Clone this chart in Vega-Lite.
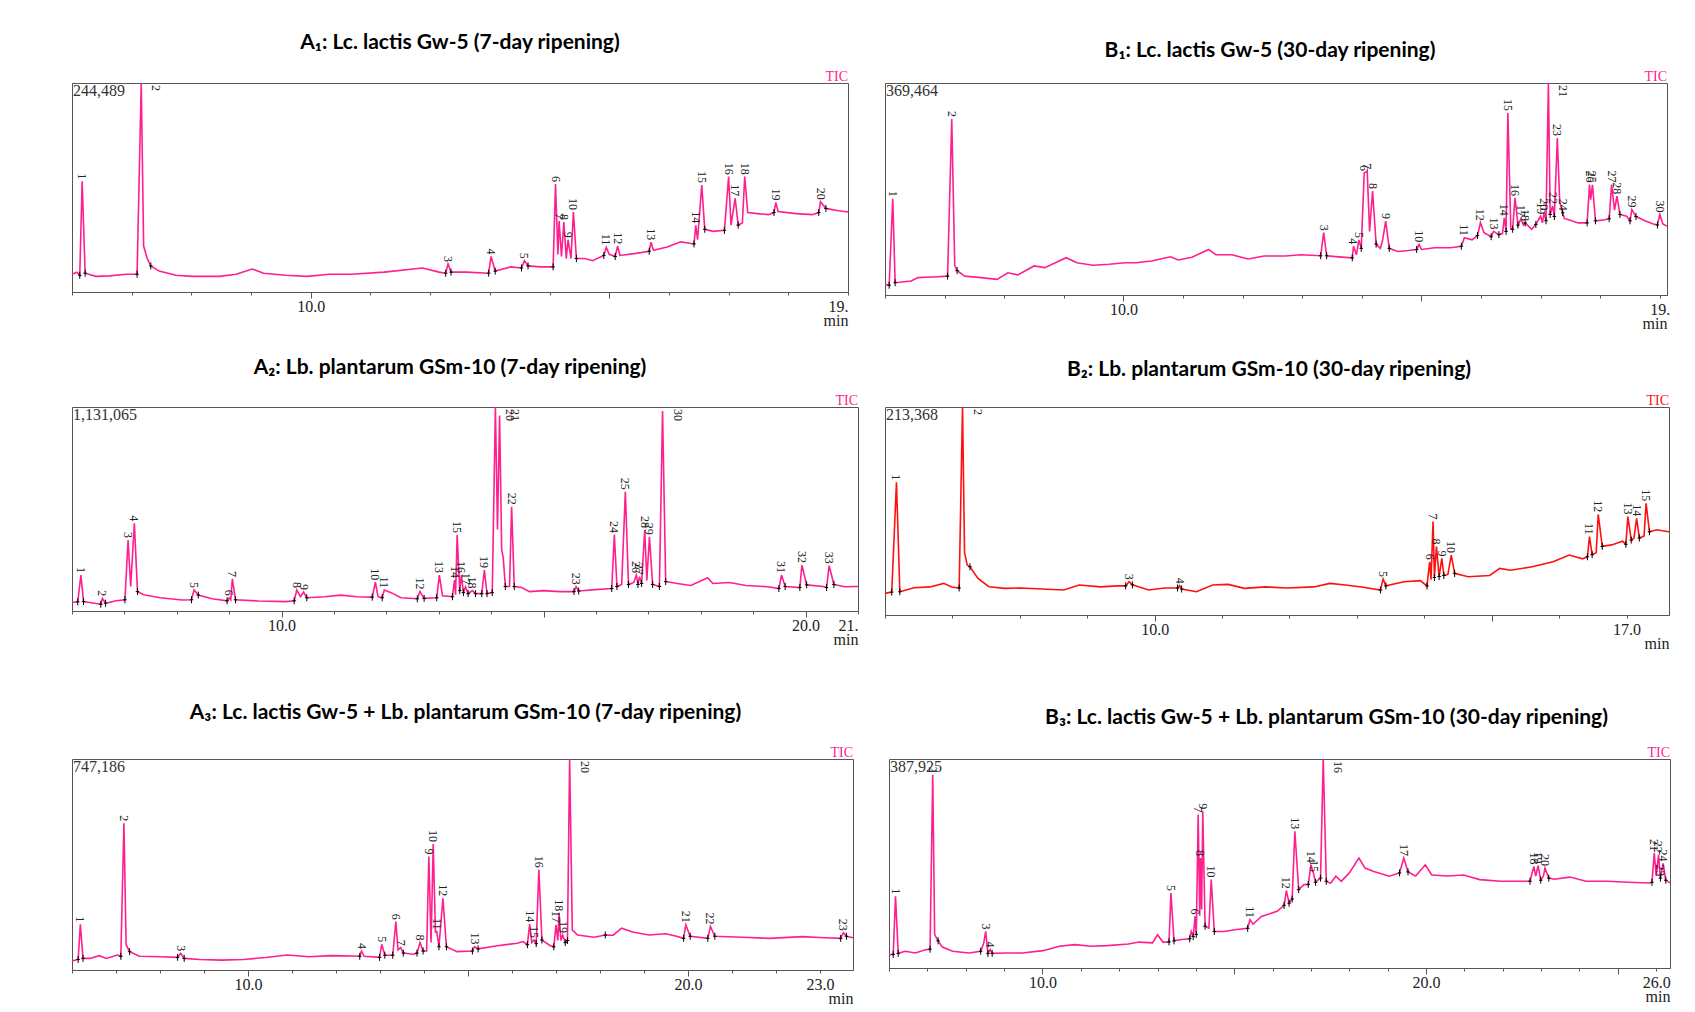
{
"$schema": "https://vega.github.io/schema/vega-lite/v6.json",
"padding": {"left": 68, "top": 31, "right": 10, "bottom": 10},
"background": "white",
"datasets": {
"A1": [{"t":6,"v":8.5},{"t":6.08,"v":9.5},{"t":6.13,"v":8,"b":1},{"t":6.17,"v":53},{"t":6.22,"v":9,"b":1},{"t":6.4,"v":7.5},{"t":6.63,"v":7.7},{"t":6.91,"v":8.5},{"t":7.09,"v":8.5,"b":1},{"t":7.16,"v":125},{"t":7.2,"v":22},{"t":7.26,"v":16},{"t":7.32,"v":12.5,"b":1},{"t":7.46,"v":10},{"t":7.74,"v":8},{"t":8.01,"v":7.5},{"t":8.47,"v":7.5},{"t":8.75,"v":8.5},{"t":9.02,"v":11},{"t":9.21,"v":9},{"t":9.58,"v":8},{"t":9.94,"v":7.5},{"t":10.31,"v":8.5},{"t":10.68,"v":8.5},{"t":11.23,"v":9.5},{"t":11.87,"v":11.5},{"t":12.15,"v":9.5},{"t":12.26,"v":9,"b":1},{"t":12.3,"v":13.4},{"t":12.35,"v":9.5,"b":1},{"t":12.61,"v":9.5},{"t":12.98,"v":9,"b":1},{"t":13.02,"v":17},{"t":13.09,"v":10,"b":1},{"t":13.35,"v":12},{"t":13.53,"v":11.5,"b":1},{"t":13.58,"v":15},{"t":13.64,"v":12.5,"b":1},{"t":13.85,"v":12},{"t":14.06,"v":12,"b":1},{"t":14.1,"v":51.7},{"t":14.14,"v":18},{"t":14.16,"v":34},{"t":14.2,"v":17},{"t":14.24,"v":33.5},{"t":14.28,"v":16},{"t":14.31,"v":25},{"t":14.36,"v":16},{"t":14.4,"v":38.3},{"t":14.45,"v":16,"b":1},{"t":14.59,"v":16},{"t":14.72,"v":15},{"t":14.91,"v":17.5,"b":1},{"t":14.95,"v":21.4},{"t":15,"v":18},{"t":15.1,"v":17,"b":1},{"t":15.14,"v":21.9},{"t":15.18,"v":17.5},{"t":15.45,"v":18.5},{"t":15.67,"v":19.5,"b":1},{"t":15.7,"v":23.8},{"t":15.74,"v":20},{"t":15.97,"v":21.5},{"t":16.2,"v":24},{"t":16.42,"v":23,"b":1},{"t":16.45,"v":31.9},{"t":16.48,"v":25},{"t":16.55,"v":51.2},{"t":16.6,"v":30,"b":1},{"t":16.74,"v":29},{"t":16.93,"v":29.5,"b":1},{"t":17,"v":55.2},{"t":17.04,"v":32},{"t":17.11,"v":44.8},{"t":17.16,"v":32,"b":1},{"t":17.23,"v":33},{"t":17.27,"v":55.2},{"t":17.32,"v":38},{"t":17.48,"v":37.5},{"t":17.67,"v":37},{"t":17.76,"v":38,"b":1},{"t":17.79,"v":42.8},{"t":17.83,"v":38.5},{"t":18.13,"v":37.5},{"t":18.4,"v":37},{"t":18.51,"v":38,"b":1},{"t":18.54,"v":43.2},{"t":18.63,"v":40,"b":1},{"t":18.82,"v":39},{"t":19,"v":38.3}],
"A1p": [{"n":"1","t":6.17,"v":53},{"n":"2","t":7.16,"v":125},{"n":"3","t":12.3,"v":13.4},{"n":"4","t":13.02,"v":17},{"n":"5","t":13.58,"v":15},{"n":"6","t":14.1,"v":51.7},{"n":"7","t":14.16,"v":34},{"n":"8","t":14.24,"v":33.5},{"n":"9","t":14.31,"v":25},{"n":"10","t":14.4,"v":38.3},{"n":"11","t":14.95,"v":21.4},{"n":"12","t":15.14,"v":21.9},{"n":"13","t":15.7,"v":23.8},{"n":"14","t":16.45,"v":31.9},{"n":"15","t":16.55,"v":51.2},{"n":"16","t":17,"v":55.2},{"n":"17","t":17.11,"v":44.8},{"n":"18","t":17.27,"v":55.2},{"n":"19","t":17.79,"v":42.8},{"n":"20","t":18.54,"v":43.2}],
"B1": [{"t":6,"v":5},{"t":6.07,"v":4.6,"b":1},{"t":6.13,"v":45.4},{"t":6.17,"v":5.8,"b":1},{"t":6.44,"v":6.6},{"t":6.55,"v":8.2},{"t":6.8,"v":8.5},{"t":7.05,"v":8.9,"b":1},{"t":7.12,"v":83},{"t":7.17,"v":14},{"t":7.21,"v":11.5,"b":1},{"t":7.34,"v":8.9},{"t":7.61,"v":8.2},{"t":7.88,"v":7.4},{"t":8.06,"v":10.5},{"t":8.23,"v":9.5},{"t":8.5,"v":13.7},{"t":8.68,"v":12.9},{"t":9.04,"v":17.6},{"t":9.22,"v":15.2},{"t":9.49,"v":14},{"t":9.76,"v":14.5},{"t":10.03,"v":15.2},{"t":10.21,"v":15.2},{"t":10.47,"v":16},{"t":10.79,"v":18},{"t":10.92,"v":16.5},{"t":11.15,"v":17.8},{"t":11.43,"v":21.5},{"t":11.55,"v":19},{"t":11.82,"v":19},{"t":12.09,"v":17},{"t":12.36,"v":18.4},{"t":12.72,"v":18.4},{"t":12.98,"v":19},{"t":13.31,"v":18.5,"b":1},{"t":13.36,"v":29.4},{"t":13.41,"v":18.5,"b":1},{"t":13.61,"v":18},{"t":13.84,"v":17.5,"b":1},{"t":13.86,"v":23},{"t":13.91,"v":19},{"t":13.95,"v":26},{"t":13.99,"v":22,"b":1},{"t":14.04,"v":57.6},{"t":14.09,"v":58.4},{"t":14.13,"v":30},{"t":14.18,"v":49},{"t":14.24,"v":24,"b":1},{"t":14.31,"v":22},{"t":14.35,"v":26},{"t":14.4,"v":34.9},{"t":14.46,"v":22,"b":1},{"t":14.6,"v":20.5},{"t":14.78,"v":21},{"t":14.92,"v":21.5,"b":1},{"t":14.96,"v":23.9},{"t":15,"v":21.5},{"t":15.22,"v":22.3},{"t":15.49,"v":22.3},{"t":15.67,"v":23,"b":1},{"t":15.72,"v":27},{"t":15.85,"v":26},{"t":15.94,"v":28,"b":1},{"t":15.99,"v":34.1},{"t":16.05,"v":29.4},{"t":16.17,"v":27.5,"b":1},{"t":16.21,"v":30},{"t":16.3,"v":28.5,"b":1},{"t":16.36,"v":29},{"t":16.39,"v":36.4},{"t":16.42,"v":30,"b":1},{"t":16.45,"v":85.9},{"t":16.5,"v":31},{"t":16.53,"v":31,"b":1},{"t":16.57,"v":45.8},{"t":16.62,"v":33,"b":1},{"t":16.67,"v":36},{"t":16.71,"v":33},{"t":16.74,"v":34,"b":1},{"t":16.85,"v":31},{"t":16.92,"v":33.3,"b":1},{"t":17,"v":37.2},{"t":17.03,"v":34},{"t":17.06,"v":39},{"t":17.09,"v":35,"b":1},{"t":17.13,"v":125},{"t":17.16,"v":38,"b":1},{"t":17.2,"v":42},{"t":17.23,"v":37,"b":1},{"t":17.28,"v":74.1},{"t":17.32,"v":44},{"t":17.37,"v":38.8,"b":1},{"t":17.4,"v":36},{"t":17.46,"v":35.6},{"t":17.63,"v":34},{"t":17.78,"v":34,"b":1},{"t":17.82,"v":52.1},{"t":17.84,"v":45},{"t":17.87,"v":52},{"t":17.92,"v":35,"b":1},{"t":18.08,"v":35.5},{"t":18.15,"v":36,"b":1},{"t":18.19,"v":52.1},{"t":18.24,"v":40},{"t":18.28,"v":46.6},{"t":18.33,"v":38,"b":1},{"t":18.44,"v":37.2},{"t":18.5,"v":35,"b":1},{"t":18.53,"v":40.3},{"t":18.6,"v":37,"b":1},{"t":18.75,"v":35},{"t":18.89,"v":33.5},{"t":18.96,"v":33,"b":1},{"t":19,"v":38},{"t":19.05,"v":33.5},{"t":19.12,"v":32.5}],
"B1p": [{"n":"1","t":6.13,"v":45.4},{"n":"2","t":7.12,"v":83},{"n":"3","t":13.36,"v":29.4},{"n":"4","t":13.86,"v":23},{"n":"5","t":13.95,"v":26},{"n":"6","t":14.04,"v":57.6},{"n":"7","t":14.09,"v":58.4},{"n":"8","t":14.18,"v":49},{"n":"9","t":14.4,"v":34.9},{"n":"10","t":14.96,"v":23.9},{"n":"11","t":15.72,"v":27},{"n":"12","t":15.99,"v":34.1},{"n":"13","t":16.21,"v":30},{"n":"14","t":16.39,"v":36.4},{"n":"15","t":16.45,"v":85.9},{"n":"16","t":16.57,"v":45.8},{"n":"17","t":16.67,"v":36},{"n":"18","t":16.74,"v":34},{"n":"19","t":17,"v":37.2},{"n":"20","t":17.06,"v":39},{"n":"21","t":17.13,"v":125},{"n":"22","t":17.2,"v":42},{"n":"23","t":17.28,"v":74.1},{"n":"24","t":17.37,"v":38.8},{"n":"25","t":17.87,"v":52},{"n":"26","t":17.82,"v":52.1},{"n":"27","t":18.19,"v":52.1},{"n":"28","t":18.28,"v":46.6},{"n":"29","t":18.53,"v":40.3},{"n":"30","t":19,"v":38}],
"A2": [{"t":6,"v":4.2},{"t":6.11,"v":4.5,"b":1},{"t":6.17,"v":17.6},{"t":6.22,"v":4.6,"b":1},{"t":6.43,"v":3.8},{"t":6.55,"v":3.3,"b":1},{"t":6.58,"v":6.2},{"t":6.64,"v":3.8,"b":1},{"t":6.84,"v":5},{"t":7.01,"v":5.5,"b":1},{"t":7.07,"v":34.8},{"t":7.12,"v":12},{"t":7.19,"v":43},{"t":7.25,"v":9.5,"b":1},{"t":7.37,"v":8},{"t":7.68,"v":6.5},{"t":8.1,"v":5.4},{"t":8.28,"v":5.5,"b":1},{"t":8.33,"v":10.3},{"t":8.41,"v":7.8,"b":1},{"t":8.67,"v":6},{"t":8.96,"v":5,"b":1},{"t":9,"v":6.5},{"t":9.03,"v":5.5},{"t":9.06,"v":15.7},{"t":9.12,"v":5.5,"b":1},{"t":9.56,"v":4.9},{"t":10.08,"v":4.6},{"t":10.24,"v":5,"b":1},{"t":10.29,"v":10.3},{"t":10.36,"v":7},{"t":10.42,"v":9.3},{"t":10.48,"v":6.5,"b":1},{"t":10.82,"v":7},{"t":11.13,"v":7.8},{"t":11.44,"v":7},{"t":11.73,"v":6.8,"b":1},{"t":11.79,"v":14.1},{"t":11.84,"v":7},{"t":11.92,"v":6.5,"b":1},{"t":11.96,"v":10.3},{"t":12.09,"v":9},{"t":12.28,"v":6.5},{"t":12.59,"v":6,"b":1},{"t":12.64,"v":9.5},{"t":12.72,"v":6.2,"b":1},{"t":12.96,"v":6.5,"b":1},{"t":13.01,"v":17.6},{"t":13.07,"v":7.5},{"t":13.26,"v":7,"b":1},{"t":13.3,"v":15.2},{"t":13.32,"v":8},{"t":13.35,"v":37.3},{"t":13.4,"v":10,"b":1},{"t":13.43,"v":17.6},{"t":13.47,"v":9,"b":1},{"t":13.51,"v":11.9},{"t":13.56,"v":8.5,"b":1},{"t":13.64,"v":10},{"t":13.7,"v":8.5,"b":1},{"t":13.82,"v":8.5,"b":1},{"t":13.87,"v":20.1},{"t":13.92,"v":8.5,"b":1},{"t":14.02,"v":9,"b":1},{"t":14.08,"v":125},{"t":14.12,"v":40},{"t":14.16,"v":95.8},{"t":14.2,"v":30},{"t":14.23,"v":26},{"t":14.27,"v":12,"b":1},{"t":14.35,"v":12},{"t":14.39,"v":51.1},{"t":14.44,"v":12,"b":1},{"t":14.58,"v":11.5},{"t":14.73,"v":9.5},{"t":14.99,"v":10},{"t":15.31,"v":9.5},{"t":15.58,"v":9.5,"b":1},{"t":15.62,"v":11.9},{"t":15.67,"v":9.8,"b":1},{"t":15.99,"v":10.5},{"t":16.3,"v":11,"b":1},{"t":16.35,"v":37.3},{"t":16.4,"v":12,"b":1},{"t":16.49,"v":13},{"t":16.56,"v":58.5},{"t":16.62,"v":13,"b":1},{"t":16.72,"v":14},{"t":16.77,"v":17.6},{"t":16.8,"v":13,"b":1},{"t":16.83,"v":16.8},{"t":16.87,"v":13.5,"b":1},{"t":16.93,"v":39.7},{"t":16.97,"v":15},{"t":17.02,"v":36.4},{"t":17.08,"v":13,"b":1},{"t":17.21,"v":12,"b":1},{"t":17.27,"v":98},{"t":17.33,"v":14.4,"b":1},{"t":17.55,"v":13.5},{"t":17.81,"v":12.5},{"t":18.13,"v":16.3},{"t":18.23,"v":13.5},{"t":18.55,"v":14},{"t":18.86,"v":12.5},{"t":19.28,"v":11.9},{"t":19.49,"v":11,"b":1},{"t":19.54,"v":17.6},{"t":19.61,"v":12,"b":1},{"t":19.89,"v":11.5,"b":1},{"t":19.93,"v":22.5},{"t":20.02,"v":12.8,"b":1},{"t":20.33,"v":12},{"t":20.4,"v":11.5,"b":1},{"t":20.45,"v":22.2},{"t":20.54,"v":13,"b":1},{"t":20.75,"v":11.9},{"t":21,"v":12}],
"A2p": [{"n":"1","t":6.17,"v":17.6},{"n":"2","t":6.58,"v":6.2},{"n":"3","t":7.07,"v":34.8},{"n":"4","t":7.19,"v":43},{"n":"5","t":8.33,"v":10.3},{"n":"6","t":9,"v":6.5},{"n":"7","t":9.06,"v":15.7},{"n":"8","t":10.29,"v":10.3},{"n":"9","t":10.42,"v":9.3},{"n":"10","t":11.79,"v":14.1},{"n":"11","t":11.96,"v":10.3},{"n":"12","t":12.64,"v":9.5},{"n":"13","t":13.01,"v":17.6},{"n":"14","t":13.3,"v":15.2},{"n":"15","t":13.35,"v":37.3},{"n":"16","t":13.43,"v":17.6},{"n":"17","t":13.51,"v":11.9},{"n":"18","t":13.64,"v":10},{"n":"19","t":13.87,"v":20.1},{"n":"20","t":14.08,"v":125},{"n":"21","t":14.16,"v":95.8},{"n":"22","t":14.39,"v":51.1},{"n":"23","t":15.62,"v":11.9},{"n":"24","t":16.35,"v":37.3},{"n":"25","t":16.56,"v":58.5},{"n":"26","t":16.77,"v":17.6},{"n":"27","t":16.83,"v":16.8},{"n":"28","t":16.93,"v":39.7},{"n":"29","t":17.02,"v":36.4},{"n":"30","t":17.27,"v":98},{"n":"31","t":19.54,"v":17.6},{"n":"32","t":19.93,"v":22.5},{"n":"33","t":20.45,"v":22.2}],
"B2": [{"t":6,"v":10.4},{"t":6.1,"v":11,"b":1},{"t":6.17,"v":63.8},{"t":6.22,"v":11.2,"b":1},{"t":6.43,"v":13.1},{"t":6.67,"v":13.5},{"t":6.87,"v":15.2},{"t":6.99,"v":13.5},{"t":7.1,"v":13,"b":1},{"t":7.15,"v":125},{"t":7.18,"v":30},{"t":7.22,"v":24},{"t":7.26,"v":23.2,"b":1},{"t":7.38,"v":17.6},{"t":7.54,"v":13.6},{"t":7.78,"v":12.8},{"t":8.01,"v":13},{"t":8.33,"v":12.5},{"t":8.65,"v":12},{"t":8.88,"v":14.4},{"t":9.2,"v":13.5},{"t":9.44,"v":14},{"t":9.57,"v":14,"b":1},{"t":9.62,"v":16},{"t":9.67,"v":14.5,"b":1},{"t":9.91,"v":12},{"t":10.15,"v":13},{"t":10.34,"v":13,"b":1},{"t":10.37,"v":14.1},{"t":10.4,"v":12.5,"b":1},{"t":10.62,"v":11.2},{"t":10.86,"v":14.4},{"t":11.09,"v":14.7},{"t":11.33,"v":12.8},{"t":11.65,"v":13.5},{"t":11.96,"v":13},{"t":12.36,"v":13.5},{"t":12.6,"v":15.2},{"t":12.83,"v":14.4},{"t":13.07,"v":13.5},{"t":13.35,"v":12,"b":1},{"t":13.39,"v":17.3},{"t":13.43,"v":14,"b":1},{"t":13.7,"v":16},{"t":13.94,"v":16.5},{"t":14.04,"v":14,"b":1},{"t":14.08,"v":25.6},{"t":14.1,"v":17},{"t":14.13,"v":44.9},{"t":14.15,"v":18,"b":1},{"t":14.18,"v":32.9},{"t":14.22,"v":18.5,"b":1},{"t":14.26,"v":27.2},{"t":14.29,"v":19,"b":1},{"t":14.35,"v":19.5},{"t":14.4,"v":28.8},{"t":14.45,"v":20,"b":1},{"t":14.65,"v":18.4},{"t":14.97,"v":19},{"t":15.12,"v":22.4},{"t":15.28,"v":21.5},{"t":15.6,"v":23.2},{"t":15.91,"v":25.6},{"t":16.15,"v":28.8},{"t":16.35,"v":27},{"t":16.42,"v":28,"b":1},{"t":16.45,"v":37.7},{"t":16.49,"v":29,"b":1},{"t":16.55,"v":30},{"t":16.58,"v":48.4},{"t":16.64,"v":33,"b":1},{"t":16.78,"v":33.7},{"t":16.94,"v":35.5},{"t":16.99,"v":34,"b":1},{"t":17.02,"v":47.3},{"t":17.07,"v":36,"b":1},{"t":17.11,"v":37},{"t":17.15,"v":46.5},{"t":17.19,"v":37,"b":1},{"t":17.26,"v":38},{"t":17.29,"v":53.7},{"t":17.34,"v":40,"b":1},{"t":17.45,"v":41},{"t":17.53,"v":40.5},{"t":17.63,"v":40}],
"B2p": [{"n":"1","t":6.17,"v":63.8},{"n":"2","t":7.15,"v":125},{"n":"3","t":9.62,"v":16},{"n":"4","t":10.37,"v":14.1},{"n":"5","t":13.39,"v":17.3},{"n":"6","t":14.08,"v":25.6},{"n":"7","t":14.13,"v":44.9},{"n":"8","t":14.18,"v":32.9},{"n":"9","t":14.26,"v":27.2},{"n":"10","t":14.4,"v":28.8},{"n":"11","t":16.45,"v":37.7},{"n":"12","t":16.58,"v":48.4},{"n":"13","t":17.02,"v":47.3},{"n":"14","t":17.15,"v":46.5},{"n":"15","t":17.29,"v":53.7}],
"A3": [{"t":6,"v":4.3},{"t":6.14,"v":5,"b":1},{"t":6.19,"v":21.7},{"t":6.25,"v":5.5,"b":1},{"t":6.41,"v":5.5},{"t":6.62,"v":6.8},{"t":6.78,"v":5.5},{"t":7.03,"v":7.1},{"t":7.11,"v":6.5,"b":1},{"t":7.18,"v":69.6},{"t":7.23,"v":12},{"t":7.31,"v":8.7,"b":1},{"t":7.53,"v":6.5},{"t":8.03,"v":6.3},{"t":8.4,"v":6,"b":1},{"t":8.47,"v":7.9},{"t":8.55,"v":5.5,"b":1},{"t":8.9,"v":5},{"t":9.4,"v":4.7},{"t":9.9,"v":5},{"t":10.4,"v":5.9},{"t":10.89,"v":7.1},{"t":11.39,"v":6.3},{"t":11.89,"v":6.8},{"t":12.39,"v":6.6},{"t":12.54,"v":6.5,"b":1},{"t":12.58,"v":9},{"t":12.64,"v":6.5},{"t":12.99,"v":6,"b":1},{"t":13.04,"v":12.2},{"t":13.11,"v":7,"b":1},{"t":13.29,"v":7,"b":1},{"t":13.36,"v":22.9},{"t":13.41,"v":9.5},{"t":13.47,"v":10.6},{"t":13.53,"v":8,"b":1},{"t":13.76,"v":7.5},{"t":13.84,"v":8,"b":1},{"t":13.91,"v":13},{"t":13.98,"v":9,"b":1},{"t":14.06,"v":9},{"t":14.11,"v":53.8},{"t":14.16,"v":13},{"t":14.21,"v":59.7},{"t":14.26,"v":18},{"t":14.29,"v":18.2},{"t":14.34,"v":11,"b":1},{"t":14.43,"v":34},{"t":14.51,"v":11,"b":1},{"t":14.75,"v":8.7},{"t":15.1,"v":9,"b":1},{"t":15.15,"v":11.1},{"t":15.23,"v":10,"b":1},{"t":15.63,"v":11.4},{"t":16.12,"v":12.7},{"t":16.25,"v":13.5},{"t":16.35,"v":12,"b":1},{"t":16.4,"v":21.7},{"t":16.45,"v":13},{"t":16.5,"v":14.2},{"t":16.55,"v":12.5,"b":1},{"t":16.61,"v":47.5},{"t":16.68,"v":14.2,"b":1},{"t":16.87,"v":11.5},{"t":16.95,"v":11,"b":1},{"t":17,"v":21.4},{"t":17.04,"v":14},{"t":17.07,"v":26.9},{"t":17.11,"v":14},{"t":17.15,"v":16.6},{"t":17.21,"v":13,"b":1},{"t":17.26,"v":14,"b":1},{"t":17.31,"v":125},{"t":17.37,"v":19},{"t":17.49,"v":16.6},{"t":17.87,"v":15.5},{"t":18.12,"v":16.6,"b":1},{"t":18.3,"v":16.5},{"t":18.49,"v":19.8},{"t":18.74,"v":18},{"t":19.11,"v":16.6},{"t":19.49,"v":17.2},{"t":19.74,"v":16},{"t":19.9,"v":15,"b":1},{"t":19.95,"v":21.4},{"t":20.05,"v":16,"b":1},{"t":20.45,"v":15,"b":1},{"t":20.51,"v":20.6},{"t":20.61,"v":16,"b":1},{"t":21.23,"v":15.5},{"t":21.85,"v":15},{"t":22.6,"v":15.8},{"t":23.1,"v":15.3},{"t":23.47,"v":15,"b":1},{"t":23.53,"v":17.7},{"t":23.6,"v":16,"b":1},{"t":23.75,"v":15.3}],
"A3p": [{"n":"1","t":6.19,"v":21.7},{"n":"2","t":7.18,"v":69.6},{"n":"3","t":8.47,"v":7.9},{"n":"4","t":12.58,"v":9},{"n":"5","t":13.04,"v":12.2},{"n":"6","t":13.36,"v":22.9},{"n":"7","t":13.47,"v":10.6},{"n":"8","t":13.91,"v":13},{"n":"9","t":14.11,"v":53.8},{"n":"10","t":14.21,"v":59.7},{"n":"11","t":14.29,"v":18.2},{"n":"12","t":14.43,"v":34},{"n":"13","t":15.15,"v":11.1},{"n":"14","t":16.4,"v":21.7},{"n":"15","t":16.5,"v":14.2},{"n":"16","t":16.61,"v":47.5},{"n":"17","t":17,"v":21.4},{"n":"18","t":17.07,"v":26.9},{"n":"19","t":17.15,"v":16.6},{"n":"20","t":17.31,"v":125},{"n":"21","t":19.95,"v":21.4},{"n":"22","t":20.51,"v":20.6},{"n":"23","t":23.53,"v":17.7}],
"B3": [{"t":6,"v":6.4},{"t":6.11,"v":6.5,"b":1},{"t":6.17,"v":34.3},{"t":6.24,"v":7,"b":1},{"t":6.42,"v":8},{"t":6.69,"v":7.2},{"t":6.97,"v":8.8},{"t":7.07,"v":9,"b":1},{"t":7.14,"v":92.5},{"t":7.19,"v":16},{"t":7.28,"v":13,"b":1},{"t":7.39,"v":10},{"t":7.66,"v":8},{"t":8.08,"v":7.2},{"t":8.39,"v":8,"b":1},{"t":8.47,"v":12},{"t":8.52,"v":17.5},{"t":8.58,"v":7,"b":1},{"t":8.64,"v":8.8},{"t":8.69,"v":7,"b":1},{"t":9.05,"v":7.2},{"t":9.47,"v":7.2},{"t":10.02,"v":8.3},{"t":10.44,"v":10.4},{"t":10.85,"v":11.2},{"t":11.27,"v":10.4},{"t":11.69,"v":10.7},{"t":12.24,"v":11.5},{"t":12.52,"v":12.4},{"t":12.87,"v":12},{"t":13,"v":15.9},{"t":13.14,"v":12.4},{"t":13.3,"v":12.5,"b":1},{"t":13.35,"v":35.9},{"t":13.43,"v":13,"b":1},{"t":13.63,"v":13.6},{"t":13.84,"v":14,"b":1},{"t":13.88,"v":17.5},{"t":13.93,"v":15,"b":1},{"t":13.98,"v":24.7},{"t":14.01,"v":16,"b":1},{"t":14.06,"v":73.4},{"t":14.1,"v":25},{"t":14.12,"v":52.6},{"t":14.15,"v":28},{"t":14.18,"v":75},{"t":14.24,"v":20,"b":1},{"t":14.34,"v":19},{"t":14.4,"v":42.3},{"t":14.48,"v":17.5,"b":1},{"t":14.73,"v":17.5},{"t":15.01,"v":18.3},{"t":15.35,"v":19,"b":1},{"t":15.41,"v":23.1},{"t":15.49,"v":21},{"t":15.71,"v":24.7},{"t":16.12,"v":27.1},{"t":16.3,"v":30,"b":1},{"t":16.36,"v":37},{"t":16.43,"v":31,"b":1},{"t":16.51,"v":33,"b":1},{"t":16.58,"v":65.4},{"t":16.68,"v":37.5,"b":1},{"t":16.82,"v":39.9},{"t":16.93,"v":40,"b":1},{"t":17,"v":49.4},{"t":17.07,"v":45},{"t":17.12,"v":41,"b":1},{"t":17.18,"v":42},{"t":17.25,"v":43,"b":1},{"t":17.32,"v":125},{"t":17.4,"v":41.5,"b":1},{"t":17.51,"v":40.5},{"t":17.65,"v":43.9},{"t":17.79,"v":41.5},{"t":18,"v":45.5},{"t":18.25,"v":52.6},{"t":18.41,"v":47.8},{"t":18.62,"v":46.3},{"t":19.04,"v":43.9},{"t":19.31,"v":45.5,"b":1},{"t":19.42,"v":52.6},{"t":19.53,"v":46,"b":1},{"t":19.73,"v":44},{"t":19.98,"v":49.4},{"t":20.15,"v":44.5},{"t":20.56,"v":44},{"t":20.98,"v":44.5},{"t":21.4,"v":42.3},{"t":21.95,"v":41.5},{"t":22.37,"v":41.5},{"t":22.71,"v":41.5,"b":1},{"t":22.81,"v":48.6},{"t":22.86,"v":44},{"t":22.92,"v":49},{"t":22.99,"v":42,"b":1},{"t":23.06,"v":44},{"t":23.1,"v":47.8},{"t":23.2,"v":43,"b":1},{"t":23.34,"v":42.5},{"t":23.75,"v":43.5},{"t":24.17,"v":41.5},{"t":24.72,"v":41.5},{"t":25.28,"v":41},{"t":25.83,"v":40.7},{"t":25.89,"v":41,"b":1},{"t":25.95,"v":55},{"t":26,"v":44},{"t":26.06,"v":54.2},{"t":26.11,"v":43,"b":1},{"t":26.18,"v":50},{"t":26.25,"v":42,"b":1},{"t":26.36,"v":40.7}],
"B3p": [{"n":"1","t":6.17,"v":34.3},{"n":"2","t":7.14,"v":92.5},{"n":"3","t":8.52,"v":17.5},{"n":"4","t":8.64,"v":8.8},{"n":"5","t":13.35,"v":35.9},{"n":"6","t":13.98,"v":24.7},{"n":"7","t":14.06,"v":73.4},{"n":"8","t":14.12,"v":52.6},{"n":"9","t":14.18,"v":75},{"n":"10","t":14.4,"v":42.3},{"n":"11","t":15.41,"v":23.1},{"n":"12","t":16.36,"v":37},{"n":"13","t":16.58,"v":65.4},{"n":"14","t":17,"v":49.4},{"n":"15","t":17.07,"v":45},{"n":"16","t":17.32,"v":125},{"n":"17","t":19.42,"v":52.6},{"n":"18","t":22.81,"v":48.6},{"n":"19","t":22.92,"v":49},{"n":"20","t":23.1,"v":47.8},{"n":"21","t":25.95,"v":55},{"n":"22","t":26.06,"v":54.2},{"n":"23","t":26.11,"v":43},{"n":"24","t":26.18,"v":50}]
},
"spacing": 24,
"vconcat": [
{"hconcat": [
{"width": 776, "height": 209,
 "title": {"text": "A₁: Lc. lactis Gw-5 (7-day ripening)", "offset": 17, "dx": 0},
 "resolve": {"axis": {"x": "independent"}},
 "layer": [
  {"data": {"name": "A1"}, "mark": {"type": "line", "color": "#FF1F8E", "strokeWidth": 1.6},
   "encoding": {"x": {"field": "t", "type": "quantitative", "scale": {"domain": [6, 19], "nice": false, "zero": false},
      "axis": {"orient": "bottom", "values": [6,7,8,9,10,11,12,13,14,15,16,17,18,19], "tickSize": 3, "labelExpr": "datum.value==10?'10.0':datum.value==19?'19.':''", "labelFlush": true, "labelOverlap": false, "title": "min", "titleAnchor": "end", "titleAlign": "right", "titlePadding": -2}},
     "y": {"field": "v", "type": "quantitative", "scale": {"domain": [0, 100], "clamp": true}, "axis": null}}},
  {"data": {"name": "A1"}, "transform": [{"filter": "datum.b==1"}], "mark": {"type": "point", "shape": "M0,-1L0,1M-0.5,0L0.5,0", "filled": false, "stroke": "#000", "strokeWidth": 1, "size": 49, "opacity": 1},
   "encoding": {"x": {"field": "t", "type": "quantitative", "axis": {"orient": "bottom", "values": [10, 15], "tickSize": 6, "labels": false, "domain": false, "title": null}}, "y": {"field": "v", "type": "quantitative", "axis": null}}},
  {"data": {"name": "A1p"}, "transform": [{"filter": "datum.v<95"}], "mark": {"type": "text", "angle": 90, "align": "right", "baseline": "middle", "dx": -2, "fontSize": 12, "color": "#222"},
   "encoding": {"x": {"field": "t", "type": "quantitative", "axis": null}, "y": {"field": "v", "type": "quantitative", "axis": null}, "text": {"field": "n"}}},
  {"data": {"name": "A1p"}, "transform": [{"filter": "datum.v>=95"}], "mark": {"type": "text", "angle": 90, "align": "left", "baseline": "middle", "dx": 2, "dy": -15, "fontSize": 12, "color": "#222"},
   "encoding": {"x": {"field": "t", "type": "quantitative", "axis": null}, "y": {"datum": 100, "type": "quantitative", "axis": null}, "text": {"field": "n"}}},
  {"data": {"values": [{"m": "244,489", "k": "TIC"}]}, "mark": {"type": "text", "align": "left", "baseline": "top", "dx": 1, "dy": 0, "fontSize": 16, "color": "#333"},
   "encoding": {"x": {"datum": 6, "type": "quantitative", "axis": null}, "y": {"datum": 100, "type": "quantitative", "axis": null}, "text": {"field": "m"}}},
  {"data": {"values": [{"m": "244,489", "k": "TIC"}]}, "mark": {"type": "text", "align": "right", "baseline": "alphabetic", "dy": -2, "fontSize": 14, "color": "#FF1F8E"},
   "encoding": {"x": {"datum": 19, "type": "quantitative", "axis": null}, "y": {"datum": 100, "type": "quantitative", "axis": null}, "text": {"field": "k"}}}
 ]},
{"width": 782, "height": 212,
 "title": {"text": "B₁: Lc. lactis Gw-5 (30-day ripening)", "offset": 9, "dx": -6},
 "resolve": {"axis": {"x": "independent"}},
 "layer": [
  {"data": {"name": "B1"}, "mark": {"type": "line", "color": "#FF1F8E", "strokeWidth": 1.6},
   "encoding": {"x": {"field": "t", "type": "quantitative", "scale": {"domain": [6, 19.12], "nice": false, "zero": false},
      "axis": {"orient": "bottom", "values": [6,7,8,9,10,11,12,13,14,15,16,17,18,19], "tickSize": 3, "labelExpr": "datum.value==10?'10.0':datum.value==19?'19.':''", "labelOverlap": false, "title": "min", "titleAnchor": "end", "titleAlign": "right", "titlePadding": -2}},
     "y": {"field": "v", "type": "quantitative", "scale": {"domain": [0, 100], "clamp": true}, "axis": null}}},
  {"data": {"name": "B1"}, "transform": [{"filter": "datum.b==1"}], "mark": {"type": "point", "shape": "M0,-1L0,1M-0.5,0L0.5,0", "filled": false, "stroke": "#000", "strokeWidth": 1, "size": 49, "opacity": 1},
   "encoding": {"x": {"field": "t", "type": "quantitative", "axis": {"orient": "bottom", "values": [10, 15], "tickSize": 6, "labels": false, "domain": false, "title": null}}, "y": {"field": "v", "type": "quantitative", "axis": null}}},
  {"data": {"name": "B1p"}, "transform": [{"filter": "datum.v<95"}], "mark": {"type": "text", "angle": 90, "align": "right", "baseline": "middle", "dx": -2, "fontSize": 12, "color": "#222"},
   "encoding": {"x": {"field": "t", "type": "quantitative", "axis": null}, "y": {"field": "v", "type": "quantitative", "axis": null}, "text": {"field": "n"}}},
  {"data": {"name": "B1p"}, "transform": [{"filter": "datum.v>=95"}], "mark": {"type": "text", "angle": 90, "align": "left", "baseline": "middle", "dx": 2, "dy": -15, "fontSize": 12, "color": "#222"},
   "encoding": {"x": {"field": "t", "type": "quantitative", "axis": null}, "y": {"datum": 100, "type": "quantitative", "axis": null}, "text": {"field": "n"}}},
  {"data": {"values": [{"m": "369,464", "k": "TIC"}]}, "mark": {"type": "text", "align": "left", "baseline": "top", "dx": 1, "dy": 0, "fontSize": 16, "color": "#333"},
   "encoding": {"x": {"datum": 6, "type": "quantitative", "axis": null}, "y": {"datum": 100, "type": "quantitative", "axis": null}, "text": {"field": "m"}}},
  {"data": {"values": [{"m": "369,464", "k": "TIC"}]}, "mark": {"type": "text", "align": "right", "baseline": "alphabetic", "dy": -2, "fontSize": 14, "color": "#FF1F8E"},
   "encoding": {"x": {"datum": 19.12, "type": "quantitative", "axis": null}, "y": {"datum": 100, "type": "quantitative", "axis": null}, "text": {"field": "k"}}}
 ]}
], "spacing": 37, "bounds": "flush"},
{"vconcat": [
{"hconcat": [
{"width": 786, "height": 204,
 "title": {"text": "A₂: Lb. plantarum GSm-10 (7-day ripening)", "offset": 16, "dx": -15},
 "resolve": {"axis": {"x": "independent"}},
 "layer": [
  {"data": {"name": "A2"}, "mark": {"type": "line", "color": "#FF1F8E", "strokeWidth": 1.6},
   "encoding": {"x": {"field": "t", "type": "quantitative", "scale": {"domain": [6, 21], "nice": false, "zero": false},
      "axis": {"orient": "bottom", "values": [6,7,8,9,10,11,12,13,14,15,16,17,18,19,20,21], "tickSize": 3, "labelExpr": "datum.value==10?'10.0':datum.value==20?'20.0':datum.value==21?'21.':''", "labelFlush": true, "labelOverlap": false, "title": "min", "titleAnchor": "end", "titleAlign": "right", "titlePadding": -2}},
     "y": {"field": "v", "type": "quantitative", "scale": {"domain": [0, 100], "clamp": true}, "axis": null}}},
  {"data": {"name": "A2"}, "transform": [{"filter": "datum.b==1"}], "mark": {"type": "point", "shape": "M0,-1L0,1M-0.5,0L0.5,0", "filled": false, "stroke": "#000", "strokeWidth": 1, "size": 49, "opacity": 1},
   "encoding": {"x": {"field": "t", "type": "quantitative", "axis": {"orient": "bottom", "values": [10, 15, 20], "tickSize": 6, "labels": false, "domain": false, "title": null}}, "y": {"field": "v", "type": "quantitative", "axis": null}}},
  {"data": {"name": "A2p"}, "transform": [{"filter": "datum.v<95"}], "mark": {"type": "text", "angle": 90, "align": "right", "baseline": "middle", "dx": -2, "fontSize": 12, "color": "#222"},
   "encoding": {"x": {"field": "t", "type": "quantitative", "axis": null}, "y": {"field": "v", "type": "quantitative", "axis": null}, "text": {"field": "n"}}},
  {"data": {"name": "A2p"}, "transform": [{"filter": "datum.v>=95"}], "mark": {"type": "text", "angle": 90, "align": "left", "baseline": "middle", "dx": 2, "dy": -15, "fontSize": 12, "color": "#222"},
   "encoding": {"x": {"field": "t", "type": "quantitative", "axis": null}, "y": {"datum": 100, "type": "quantitative", "axis": null}, "text": {"field": "n"}}},
  {"data": {"values": [{"m": "1,131,065", "k": "TIC"}]}, "mark": {"type": "text", "align": "left", "baseline": "top", "dx": 1, "dy": 0, "fontSize": 16, "color": "#333"},
   "encoding": {"x": {"datum": 6, "type": "quantitative", "axis": null}, "y": {"datum": 100, "type": "quantitative", "axis": null}, "text": {"field": "m"}}},
  {"data": {"values": [{"m": "1,131,065", "k": "TIC"}]}, "mark": {"type": "text", "align": "right", "baseline": "alphabetic", "dy": -2, "fontSize": 14, "color": "#FF1F8E"},
   "encoding": {"x": {"datum": 21, "type": "quantitative", "axis": null}, "y": {"datum": 100, "type": "quantitative", "axis": null}, "text": {"field": "k"}}}
 ]},
{"width": 784, "height": 208,
 "title": {"text": "B₂: Lb. plantarum GSm-10 (30-day ripening)", "offset": 14, "dx": -8},
 "resolve": {"axis": {"x": "independent"}},
 "layer": [
  {"data": {"name": "B2"}, "mark": {"type": "line", "color": "#FF1010", "strokeWidth": 1.6},
   "encoding": {"x": {"field": "t", "type": "quantitative", "scale": {"domain": [6, 17.63], "nice": false, "zero": false},
      "axis": {"orient": "bottom", "values": [6,7,8,9,10,11,12,13,14,15,16,17], "tickSize": 3, "labelExpr": "datum.value==10?'10.0':datum.value==17?'17.0':''", "labelOverlap": false, "title": "min", "titleAnchor": "end", "titleAlign": "right", "titlePadding": -2}},
     "y": {"field": "v", "type": "quantitative", "scale": {"domain": [0, 100], "clamp": true}, "axis": null}}},
  {"data": {"name": "B2"}, "transform": [{"filter": "datum.b==1"}], "mark": {"type": "point", "shape": "M0,-1L0,1M-0.5,0L0.5,0", "filled": false, "stroke": "#000", "strokeWidth": 1, "size": 49, "opacity": 1},
   "encoding": {"x": {"field": "t", "type": "quantitative", "axis": {"orient": "bottom", "values": [10, 15], "tickSize": 6, "labels": false, "domain": false, "title": null}}, "y": {"field": "v", "type": "quantitative", "axis": null}}},
  {"data": {"name": "B2p"}, "transform": [{"filter": "datum.v<95"}], "mark": {"type": "text", "angle": 90, "align": "right", "baseline": "middle", "dx": -2, "fontSize": 12, "color": "#222"},
   "encoding": {"x": {"field": "t", "type": "quantitative", "axis": null}, "y": {"field": "v", "type": "quantitative", "axis": null}, "text": {"field": "n"}}},
  {"data": {"name": "B2p"}, "transform": [{"filter": "datum.v>=95"}], "mark": {"type": "text", "angle": 90, "align": "left", "baseline": "middle", "dx": 2, "dy": -15, "fontSize": 12, "color": "#222"},
   "encoding": {"x": {"field": "t", "type": "quantitative", "axis": null}, "y": {"datum": 100, "type": "quantitative", "axis": null}, "text": {"field": "n"}}},
  {"data": {"values": [{"m": "213,368", "k": "TIC"}]}, "mark": {"type": "text", "align": "left", "baseline": "top", "dx": 1, "dy": 0, "fontSize": 16, "color": "#333"},
   "encoding": {"x": {"datum": 6, "type": "quantitative", "axis": null}, "y": {"datum": 100, "type": "quantitative", "axis": null}, "text": {"field": "m"}}},
  {"data": {"values": [{"m": "213,368", "k": "TIC"}]}, "mark": {"type": "text", "align": "right", "baseline": "alphabetic", "dy": -2, "fontSize": 14, "color": "#FF1010"},
   "encoding": {"x": {"datum": 17.63, "type": "quantitative", "axis": null}, "y": {"datum": 100, "type": "quantitative", "axis": null}, "text": {"field": "k"}}}
 ]}
], "spacing": 27, "bounds": "flush"},
{"hconcat": [
{"width": 781, "height": 211,
 "title": {"text": "A₃: Lc. lactis Gw-5 + Lb. plantarum GSm-10 (7-day ripening)", "offset": 23, "dx": 3},
 "resolve": {"axis": {"x": "independent"}},
 "layer": [
  {"data": {"name": "A3"}, "mark": {"type": "line", "color": "#FF1F8E", "strokeWidth": 1.6},
   "encoding": {"x": {"field": "t", "type": "quantitative", "scale": {"domain": [6, 23.75], "nice": false, "zero": false},
      "axis": {"orient": "bottom", "values": [6,7,8,9,10,11,12,13,14,15,16,17,18,19,20,21,22,23], "tickSize": 3, "labelExpr": "datum.value==10?'10.0':datum.value==20?'20.0':datum.value==23?'23.0':''", "labelOverlap": false, "title": "min", "titleAnchor": "end", "titleAlign": "right", "titlePadding": -2}},
     "y": {"field": "v", "type": "quantitative", "scale": {"domain": [0, 100], "clamp": true}, "axis": null}}},
  {"data": {"name": "A3"}, "transform": [{"filter": "datum.b==1"}], "mark": {"type": "point", "shape": "M0,-1L0,1M-0.5,0L0.5,0", "filled": false, "stroke": "#000", "strokeWidth": 1, "size": 49, "opacity": 1},
   "encoding": {"x": {"field": "t", "type": "quantitative", "axis": {"orient": "bottom", "values": [10, 15, 20], "tickSize": 6, "labels": false, "domain": false, "title": null}}, "y": {"field": "v", "type": "quantitative", "axis": null}}},
  {"data": {"name": "A3p"}, "transform": [{"filter": "datum.v<95"}], "mark": {"type": "text", "angle": 90, "align": "right", "baseline": "middle", "dx": -2, "fontSize": 12, "color": "#222"},
   "encoding": {"x": {"field": "t", "type": "quantitative", "axis": null}, "y": {"field": "v", "type": "quantitative", "axis": null}, "text": {"field": "n"}}},
  {"data": {"name": "A3p"}, "transform": [{"filter": "datum.v>=95"}], "mark": {"type": "text", "angle": 90, "align": "left", "baseline": "middle", "dx": 2, "dy": -15, "fontSize": 12, "color": "#222"},
   "encoding": {"x": {"field": "t", "type": "quantitative", "axis": null}, "y": {"datum": 100, "type": "quantitative", "axis": null}, "text": {"field": "n"}}},
  {"data": {"values": [{"m": "747,186", "k": "TIC"}]}, "mark": {"type": "text", "align": "left", "baseline": "top", "dx": 1, "dy": 0, "fontSize": 16, "color": "#333"},
   "encoding": {"x": {"datum": 6, "type": "quantitative", "axis": null}, "y": {"datum": 100, "type": "quantitative", "axis": null}, "text": {"field": "m"}}},
  {"data": {"values": [{"m": "747,186", "k": "TIC"}]}, "mark": {"type": "text", "align": "right", "baseline": "alphabetic", "dy": -2, "fontSize": 14, "color": "#FF1F8E"},
   "encoding": {"x": {"datum": 23.75, "type": "quantitative", "axis": null}, "y": {"datum": 100, "type": "quantitative", "axis": null}, "text": {"field": "k"}}}
 ]},
{"width": 781, "height": 209,
 "title": {"text": "B₃: Lc. lactis Gw-5 + Lb. plantarum GSm-10 (30-day ripening)", "offset": 18, "dx": 47},
 "resolve": {"axis": {"x": "independent"}},
 "layer": [
  {"data": {"name": "B3"}, "mark": {"type": "line", "color": "#FF1F8E", "strokeWidth": 1.6},
   "encoding": {"x": {"field": "t", "type": "quantitative", "scale": {"domain": [6, 26.36], "nice": false, "zero": false},
      "axis": {"orient": "bottom", "values": [6,7,8,9,10,11,12,13,14,15,16,17,18,19,20,21,22,23,24,25,26], "tickSize": 3, "labelExpr": "datum.value==10?'10.0':datum.value==20?'20.0':datum.value==26?'26.0':''", "labelOverlap": false, "title": "min", "titleAnchor": "end", "titleAlign": "right", "titlePadding": -2}},
     "y": {"field": "v", "type": "quantitative", "scale": {"domain": [0, 100], "clamp": true}, "axis": null}}},
  {"data": {"name": "B3"}, "transform": [{"filter": "datum.b==1"}], "mark": {"type": "point", "shape": "M0,-1L0,1M-0.5,0L0.5,0", "filled": false, "stroke": "#000", "strokeWidth": 1, "size": 49, "opacity": 1},
   "encoding": {"x": {"field": "t", "type": "quantitative", "axis": {"orient": "bottom", "values": [10, 15, 20, 25], "tickSize": 6, "labels": false, "domain": false, "title": null}}, "y": {"field": "v", "type": "quantitative", "axis": null}}},
  {"data": {"name": "B3p"}, "transform": [{"filter": "datum.v<95"}], "mark": {"type": "text", "angle": 90, "align": "right", "baseline": "middle", "dx": -2, "fontSize": 12, "color": "#222"},
   "encoding": {"x": {"field": "t", "type": "quantitative", "axis": null}, "y": {"field": "v", "type": "quantitative", "axis": null}, "text": {"field": "n"}}},
  {"data": {"name": "B3p"}, "transform": [{"filter": "datum.v>=95"}], "mark": {"type": "text", "angle": 90, "align": "left", "baseline": "middle", "dx": 2, "dy": -15, "fontSize": 12, "color": "#222"},
   "encoding": {"x": {"field": "t", "type": "quantitative", "axis": null}, "y": {"datum": 100, "type": "quantitative", "axis": null}, "text": {"field": "n"}}},
  {"data": {"values": [{"m": "387,925", "k": "TIC"}]}, "mark": {"type": "text", "align": "left", "baseline": "top", "dx": 1, "dy": 0, "fontSize": 16, "color": "#333"},
   "encoding": {"x": {"datum": 6, "type": "quantitative", "axis": null}, "y": {"datum": 100, "type": "quantitative", "axis": null}, "text": {"field": "m"}}},
  {"data": {"values": [{"m": "387,925", "k": "TIC"}]}, "mark": {"type": "text", "align": "right", "baseline": "alphabetic", "dy": -2, "fontSize": 14, "color": "#FF1F8E"},
   "encoding": {"x": {"datum": 26.36, "type": "quantitative", "axis": null}, "y": {"datum": 100, "type": "quantitative", "axis": null}, "text": {"field": "k"}}}
 ]}
], "spacing": 36, "bounds": "flush"}
], "spacing": 49}
],
"config": {
 "view": {"stroke": "#555", "strokeWidth": 1},
 "axis": {"domainColor": "#555", "tickColor": "#555", "labelFont": "Liberation Serif", "labelFontSize": 16, "labelColor": "#222", "labelPadding": 3, "titleFont": "Liberation Serif", "titleFontSize": 16, "titleFontWeight": "normal", "titleColor": "#222", "grid": false},
 "title": {"font": "Lato", "fontSize": 21, "fontWeight": "bold", "color": "#000", "baseline": "alphabetic", "anchor": "middle"},
 "text": {"font": "Liberation Serif"}
}
}
